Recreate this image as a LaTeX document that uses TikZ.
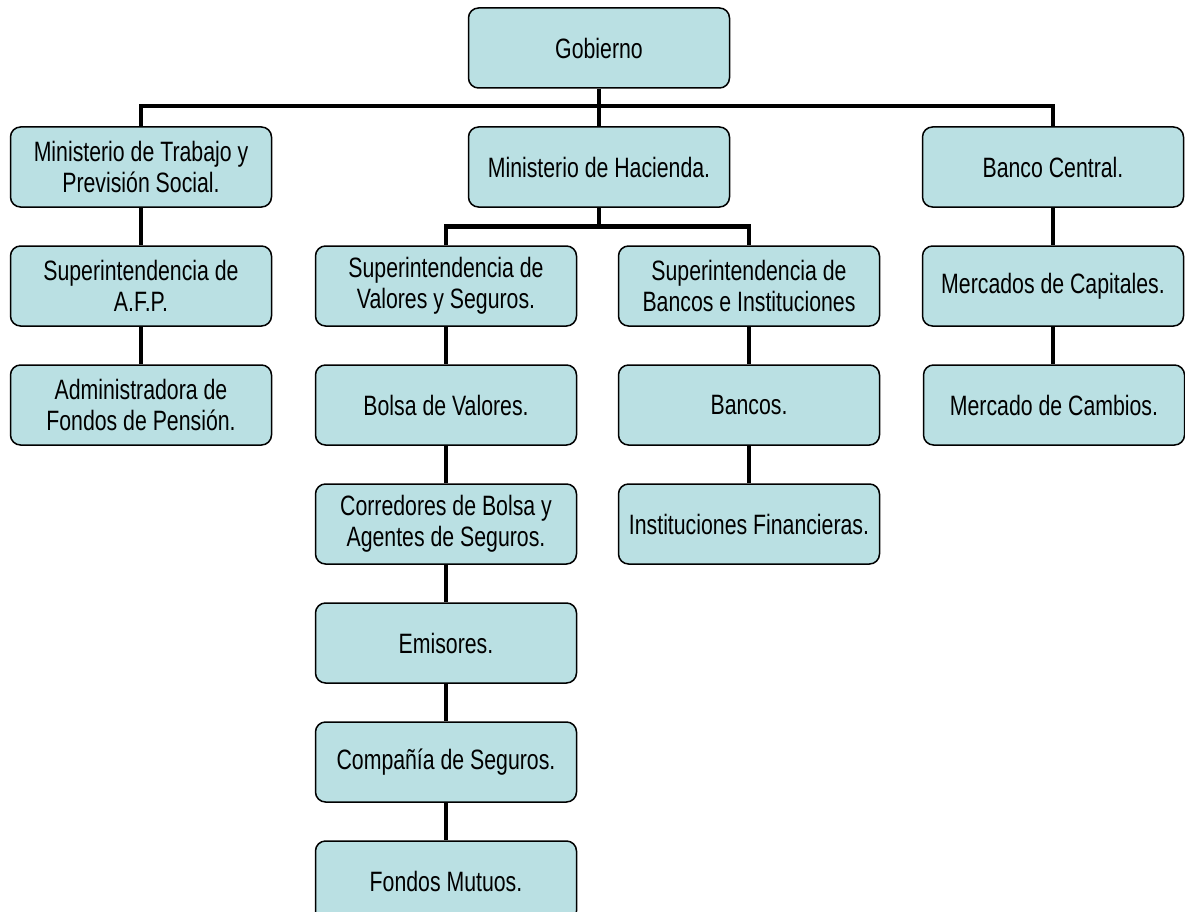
\documentclass[tikz,border=0pt]{standalone}
\usepackage{fontspec}
\setmainfont{Liberation Sans}[FakeStretch=0.76]
\definecolor{boxfill}{RGB}{186,224,227}
\begin{document}
\begin{tikzpicture}[x=1pt,y=-1pt,
  org/.style={draw=black, line width=1.5pt, fill=boxfill, rounded corners=10pt,
    minimum width=261pt, minimum height=80pt, inner sep=0pt, align=center,
    font=\fontsize{28}{31}\selectfont},
  bus/.style={line width=4.5pt, line join=miter},
  chain/.style={line width=3.5pt}]
\useasboundingbox (0,0) rectangle (1185,912);
% row y centres: 48, 167, 286, 405, 524, 643, 762, 881
\node[org] (gob) at (599,48) {Gobierno};
\node[org] (mt)  at (141,167) {Ministerio de Trabajo y\\Previsión Social.};
\node[org] (hac) at (599,167) {Ministerio de Hacienda.};
\node[org] (bc)  at (1053,167) {Banco Central.};
\node[org] (afp) at (141,286) {Superintendencia de\\A.F.P.};
\node[org] (adm) at (141,405) {Administradora de\\Fondos de Pensión.};
\node[org] (sv)  at (446,286) {Superintendencia de\\Valores y Seguros.};
\node[org] (sb)  at (749,286) {Superintendencia de\\Bancos e Instituciones};
\node[org] (mc)  at (1053,286) {Mercados de Capitales.};
\node[org] (mcb) at (1054,405) {Mercado de Cambios.};
\node[org] (bv)  at (446,405) {Bolsa de Valores.};
\node[org] (ban) at (749,405) {Bancos.};
\node[org] (cor) at (446,524) {Corredores de Bolsa y\\Agentes de Seguros.};
\node[org] (ifn) at (749,524) {Instituciones Financieras.};
\node[org] (emi) at (446,643) {Emisores.};
\node[org] (cia) at (446,762) {Compañía de Seguros.};
\node[org] (fm)  at (446,881) {Fondos Mutuos.};
% bus coordinates
\path (bc.north) ++(0,-20) coordinate (busR);
\path (sb.north) ++(0,-19) coordinate (hbusR);
% top level connectors
\draw[bus] (mt.north) |- (busR) -- (bc.north);
\draw[bus] (gob.south) -- (hac.north);
% Hacienda connectors
\draw[bus] (sv.north) |- (hbusR) -- (sb.north);
\draw[bus] (hac.south) -- (hac.south |- hbusR);
% chains
\draw[chain] (mt) -- (afp);
\draw[chain] (afp) -- (adm);
\draw[chain] (sv) -- (bv);
\draw[chain] (bv) -- (cor);
\draw[chain] (cor) -- (emi);
\draw[chain] (emi) -- (cia);
\draw[chain] (cia) -- (fm);
\draw[chain] (sb) -- (ban);
\draw[chain] (ban) -- (ifn);
\draw[chain] (bc) -- (mc);
\draw[chain] (mc.south) -- (mc.south |- mcb.north);
\end{tikzpicture}
\end{document}
